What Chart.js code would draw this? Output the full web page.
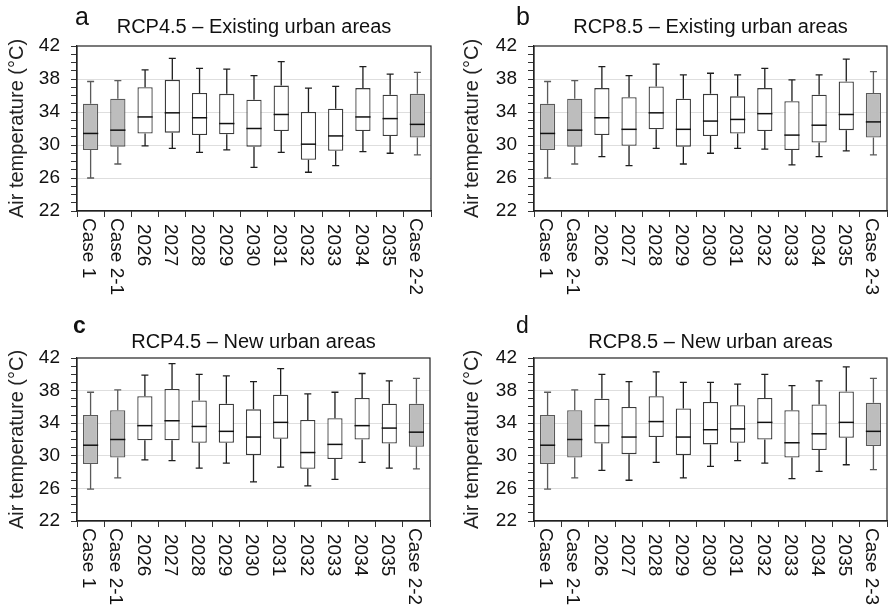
<!DOCTYPE html>
<html>
<head>
<meta charset="utf-8">
<script src="https://cdn.jsdelivr.net/npm/chart.js@4.4.0/dist/chart.umd.min.js"></script>
<style>
  body { margin: 0; background: #fff; font-family: "Liberation Sans", Arial, sans-serif; }
  #page { position: relative; width: 888px; height: 610px; overflow: hidden; }
  .panel { position: absolute; width: 444px; height: 305px; }
  .letter { position: absolute; color: #111; line-height: 1; }
</style>
</head>
<body>
<div id="page">
  <div class="panel" style="left:0;top:0"><canvas id="chartA"></canvas></div>
  <div class="panel" style="left:444px;top:0"><canvas id="chartB"></canvas></div>
  <div class="panel" style="left:0;top:305px"><canvas id="chartC"></canvas></div>
  <div class="panel" style="left:444px;top:305px"><canvas id="chartD"></canvas></div>
  <div class="letter" style="left:75px;top:4px;font-size:25px">a</div>
  <div class="letter" style="left:516px;top:4px;font-size:25px">b</div>
  <div class="letter" style="left:73px;top:314px;font-size:23px;font-weight:bold">c</div>
  <div class="letter" style="left:516px;top:314px;font-size:23px">d</div>
</div>
<script>
// categories
const labels45 = ["Case 1", "Case 2-1", "2026", "2027", "2028", "2029", "2030", "2031", "2032", "2033", "2034", "2035", "Case 2-2"];
const labels85 = ["Case 1", "Case 2-1", "2026", "2027", "2028", "2029", "2030", "2031", "2032", "2033", "2034", "2035", "Case 2-3"];

// a: RCP4.5 existing urban areas
const minA = [26.0, 27.7, 29.9, 29.6, 29.1, 29.4, 27.3, 29.1, 26.7, 27.5, 29.2, 29.0, 28.8];
const q1A  = [29.4, 29.8, 31.4, 31.5, 31.2, 31.3, 29.8, 31.7, 28.2, 29.3, 31.7, 31.1, 30.9];
const medA = [31.4, 31.8, 33.4, 33.9, 33.3, 32.6, 32.0, 33.7, 30.1, 31.1, 33.4, 33.2, 32.5];
const q3A  = [35.0, 35.6, 37.0, 37.9, 36.3, 36.2, 35.5, 37.2, 34.0, 34.4, 36.9, 36.1, 36.2];
const maxA = [37.7, 37.8, 39.1, 40.5, 39.3, 39.2, 38.4, 40.1, 36.9, 37.1, 39.5, 38.6, 38.8];

// b: RCP8.5 existing urban areas
const minB = [26.0, 27.7, 28.6, 27.5, 29.6, 27.7, 29.0, 29.6, 29.5, 27.6, 28.6, 29.3, 28.8];
const q1B  = [29.4, 29.8, 31.2, 29.9, 31.9, 29.8, 31.1, 31.4, 31.7, 29.4, 30.3, 31.8, 30.9];
const medB = [31.4, 31.8, 33.3, 31.9, 33.9, 31.9, 32.9, 33.1, 33.8, 31.2, 32.4, 33.7, 32.8];
const q3B  = [35.0, 35.6, 36.9, 35.8, 37.1, 35.6, 36.2, 35.9, 36.9, 35.3, 36.1, 37.7, 36.3];
const maxB = [37.7, 37.8, 39.5, 38.4, 39.8, 38.5, 38.7, 38.5, 39.3, 37.9, 38.5, 40.4, 38.9];

// c: RCP4.5 new urban areas
const minC = [25.9, 27.3, 29.5, 29.4, 28.5, 29.1, 26.8, 28.6, 26.3, 27.1, 29.2, 28.5, 28.4];
const q1C  = [29.0, 29.8, 31.9, 31.9, 31.6, 31.6, 30.1, 32.1, 28.4, 29.6, 32.0, 31.5, 31.1];
const medC = [31.3, 32.0, 33.7, 34.3, 33.6, 33.0, 32.3, 34.1, 30.4, 31.4, 33.7, 33.4, 32.9];
const q3C  = [35.0, 35.6, 37.3, 38.2, 36.8, 36.4, 35.7, 37.5, 34.4, 34.6, 37.1, 36.4, 36.4];
const maxC = [37.8, 38.1, 39.9, 41.3, 40.0, 39.8, 39.1, 40.7, 37.6, 37.8, 40.1, 39.2, 39.5];

// d: RCP8.5 new urban areas
const minD = [25.9, 27.3, 28.2, 27.0, 29.2, 27.3, 28.7, 29.4, 29.1, 27.2, 28.1, 28.9, 28.3];
const q1D  = [29.0, 29.8, 31.5, 30.2, 32.3, 30.1, 31.4, 31.6, 32.0, 29.8, 30.7, 32.2, 31.2];
const medD = [31.3, 32.0, 33.7, 32.3, 34.2, 32.3, 33.2, 33.3, 34.1, 31.6, 32.7, 34.1, 33.0];
const q3D  = [35.0, 35.6, 37.0, 36.0, 37.3, 35.8, 36.6, 36.2, 37.1, 35.6, 36.3, 37.9, 36.5];
const maxD = [37.8, 38.1, 40.0, 39.1, 40.3, 39.0, 39.0, 38.8, 40.0, 38.6, 39.2, 40.9, 39.5];

const yTicksMin = 22;
const yTicksMax = 42;

const FONT = "'Liberation Sans', Arial, sans-serif";
const isCase = (label) => label.startsWith("Case");

// whiskers, caps and medians drawn with the chart's own scales
const boxPlugin = {
  id: "boxParts",
  beforeDatasetsDraw(chart) {
    const ctx = chart.ctx;
    const y = chart.scales.y;
    const ds = chart.data.datasets[0];
    const meta = chart.getDatasetMeta(0);
    ctx.save();
    ctx.lineWidth = 1.3;
    meta.data.forEach((bar, i) => {
      const x = bar.x;
      const cap = 3.5;
      ctx.strokeStyle = isCase(chart.data.labels[i]) ? "#5a5a5a" : "#1e1e1e";
      const yMax = y.getPixelForValue(ds.whiskerMax[i]);
      const yMin = y.getPixelForValue(ds.whiskerMin[i]);
      const yQ3 = y.getPixelForValue(ds.data[i][1]);
      const yQ1 = y.getPixelForValue(ds.data[i][0]);
      ctx.beginPath();
      ctx.moveTo(x, yQ3); ctx.lineTo(x, yMax);
      ctx.moveTo(x - cap, yMax); ctx.lineTo(x + cap, yMax);
      ctx.moveTo(x, yQ1); ctx.lineTo(x, yMin);
      ctx.moveTo(x - cap, yMin); ctx.lineTo(x + cap, yMin);
      ctx.stroke();
    });
    ctx.restore();
  },
  afterDatasetsDraw(chart) {
    const ctx = chart.ctx;
    const y = chart.scales.y;
    const ds = chart.data.datasets[0];
    const meta = chart.getDatasetMeta(0);
    ctx.save();
    ctx.strokeStyle = "#111";
    ctx.lineWidth = 1.5;
    meta.data.forEach((bar, i) => {
      const ym = y.getPixelForValue(ds.median[i]);
      ctx.beginPath();
      ctx.moveTo(bar.x - bar.width / 2, ym);
      ctx.lineTo(bar.x + bar.width / 2, ym);
      ctx.stroke();
    });
    ctx.restore();
  },
  afterDraw(chart) {
    const ctx = chart.ctx;
    const a = chart.chartArea;
    const xs = chart.scales.x;
    ctx.save();
    // frame around the plot
    ctx.strokeStyle = "#222";
    ctx.lineWidth = 1.2;
    ctx.strokeRect(a.left, a.top, a.right - a.left, a.bottom - a.top);
    // vertical category labels, reading top to bottom
    ctx.fillStyle = "#111";
    ctx.font = "19px " + FONT;
    ctx.textAlign = "left";
    ctx.textBaseline = "middle";
    chart.data.labels.forEach((lab, i) => {
      const x = xs.getPixelForValue(i) - 2;
      const y0 = a.bottom + (isCase(lab) ? 7 : 13);
      ctx.save();
      ctx.translate(x, y0);
      ctx.rotate(Math.PI / 2);
      ctx.fillText(lab, 0, 0);
      ctx.restore();
    });
    ctx.restore();
  }
};

function makePanel(id, title, labels, mins, q1s, meds, q3s, maxs, lay) {
  new Chart(document.getElementById(id), {
    type: "bar",
    data: {
      labels: labels,
      datasets: [{
        data: q1s.map((v, i) => [v, q3s[i]]),
        whiskerMin: mins,
        whiskerMax: maxs,
        median: meds,
        backgroundColor: labels.map((l) => isCase(l) ? "#bdbdbd" : "#ffffff"),
        borderColor: labels.map((l) => isCase(l) ? "#5a5a5a" : "#3a3a3a"),
        borderWidth: 1.3,
        borderSkipped: false,
        barPercentage: 0.56,
        categoryPercentage: 1
      }]
    },
    options: {
      responsive: true,
      maintainAspectRatio: false,
      animation: false,
      layout: { padding: { left: 0, right: lay.right, top: 0, bottom: 0 } },
      plugins: {
        legend: { display: false },
        tooltip: { enabled: false },
        title: {
          display: true,
          text: title,
          fullSize: false,
          color: "#111",
          font: { family: FONT, size: 20, weight: "normal" },
          padding: { top: lay.titleTop, bottom: lay.titleBottom }
        }
      },
      scales: {
        x: {
          ticks: { display: false },
          grid: { drawOnChartArea: false, offset: true, tickLength: 6, tickColor: "#333" },
          border: { color: "#222", width: 1.2 },
          afterFit: (s) => { s.height = lay.xHeight; }
        },
        y: {
          min: yTicksMin,
          max: yTicksMax,
          ticks: {
            stepSize: 1,
            autoSkip: false,
            padding: 11,
            color: "#111",
            font: { family: FONT, size: 19 },
            callback: (v) => ((v - yTicksMin) % 4 === 0 ? v : "")
          },
          grid: {
            color: (c) => (c.tick && (c.tick.value - yTicksMin) % 4 === 0 && c.tick.value > yTicksMin && c.tick.value < yTicksMax) ? "#dedede" : "rgba(0,0,0,0)",
            tickColor: "#333",
            tickLength: 6
          },
          border: { color: "#222", width: 1.2 },
          title: {
            display: true,
            text: "Air temperature (°C)",
            color: "#222",
            font: { family: FONT, size: 20 },
            padding: { top: lay.yTitlePad, bottom: 0 }
          },
          afterFit: (s) => { s.width = lay.yWidth; }
        }
      }
    },
    plugins: [boxPlugin]
  });
}

makePanel("chartA", "RCP4.5 – Existing urban areas", labels45, minA, q1A, medA, q3A, maxA,
  { right: 13, titleTop: 15, titleBottom: 7, xHeight: 94, yWidth: 77, yTitlePad: 5.5 });
makePanel("chartB", "RCP8.5 – Existing urban areas", labels85, minB, q1B, medB, q3B, maxB,
  { right: 1, titleTop: 15, titleBottom: 7, xHeight: 94, yWidth: 90, yTitlePad: 16.5 });
makePanel("chartC", "RCP4.5 – New urban areas", labels45, minC, q1C, medC, q3C, maxC,
  { right: 14, titleTop: 25.5, titleBottom: 3.5, xHeight: 89, yWidth: 77, yTitlePad: 5.5 });
makePanel("chartD", "RCP8.5 – New urban areas", labels85, minD, q1D, medD, q3D, maxD,
  { right: 1, titleTop: 25.5, titleBottom: 3.5, xHeight: 89, yWidth: 90, yTitlePad: 16.5 });
</script>
</body>
</html>
